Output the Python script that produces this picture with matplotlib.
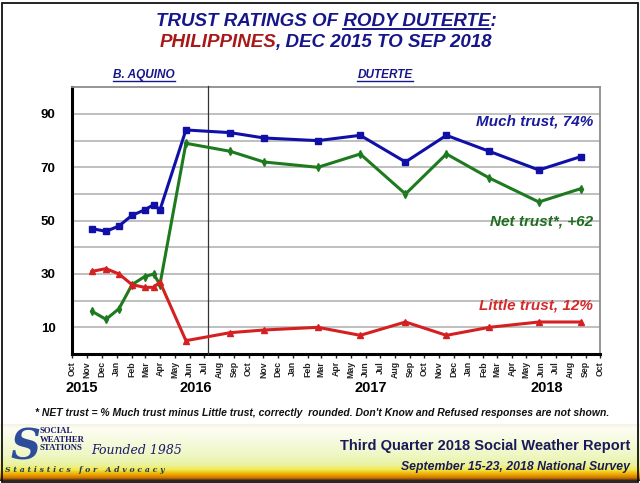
import matplotlib
matplotlib.use("Agg")
import numpy as np
import pandas as pd
import matplotlib.pyplot as plt
import matplotlib.dates as mdates
from matplotlib.patches import Rectangle
from matplotlib.lines import Line2D

plt.rcParams['font.family'] = ['Liberation Sans', 'DejaVu Sans']

# survey points as they sit on the chart's month axis
survey_dates = ['2015-11-11', '2015-12-10', '2016-01-06', '2016-02-02', '2016-02-28',
                '2016-03-18', '2016-03-31', '2016-05-24', '2016-08-24', '2016-11-02',
                '2017-02-22', '2017-05-21', '2017-08-23', '2017-11-16', '2018-02-13',
                '2018-05-27', '2018-08-22']
much_trust = [47, 46, 48, 52, 54, 56, 54, 84, 83, 81, 80, 82, 72, 82, 76, 69, 74]
net_trust = [16, 13, 17, 26, 29, 30, 26, 79, 76, 72, 70, 75, 60, 75, 66, 57, 62]
little_trust = [31, 32, 30, 26, 25, 25, 27, 5, 8, 9, 10, 7, 12, 7, 10, 12, 12]

term_change = '2016-07-08'
year_labels = ['2015', '2016', '2017', '2018']
year_label_dates = ['2015-10-20', '2016-06-14', '2017-06-12', '2018-06-13']

NAVY = '#16168a'
W, H = 640, 483

x = pd.to_datetime(survey_dates)

fig = plt.figure(figsize=(6.4, 4.83), dpi=100)
fig.patch.set_facecolor('white')

# footer banner gradient
bax = fig.add_axes([0, 1 - 481 / H, 1, 57 / H])
stops = [(0.0, '#f4f4e4'), (0.08, '#fdfdf4'), (0.55, '#eef7c4'), (0.72, '#eaf2a0'),
         (0.8, '#f3ea50'), (0.88, '#eeb000'), (0.95, '#d07000'), (1.0, '#202020')]
pos = np.array([s[0] for s in stops])
cols = np.array([matplotlib.colors.to_rgb(s[1]) for s in stops])
t = np.linspace(0, 1, 120)
grad = np.stack([np.interp(t, pos, cols[:, i]) for i in range(3)], axis=1)
bax.imshow(grad[:, None, :], aspect='auto', extent=(0, 1, 0, 1))
bax.set_axis_off()

# main chart
ax = fig.add_axes([72.3 / W, 1 - 354 / H, (600 - 72.3) / W, (354 - 87.3) / H])
ax.plot(x, much_trust, color='#1010a8', lw=2.2, marker='s', ms=4.5, zorder=4)
ax.plot(x, net_trust, color='#1e7a1e', lw=2.2, marker='d', ms=4, zorder=4)
ax.plot(x, little_trust, color='#d42020', lw=2.2, marker='^', ms=4.5, zorder=4)
ax.axvline(pd.Timestamp(term_change), color='#333333', lw=0.9, zorder=3, ymax=1.005, clip_on=False)

ax.set_ylim(0, 100)
ax.set_xlim(pd.Timestamp('2015-10-01'), pd.Timestamp('2018-10-01'))
ax.set_yticks(range(10, 100, 20))
ax.set_yticks(range(20, 100, 20), minor=True)
ax.yaxis.grid(True, which='both', color='#b4b4b4', lw=1.2)
ax.set_axisbelow(True)
ax.tick_params(axis='y', which='both', length=0, pad=12, labelsize=9.5)
for lab in ax.get_yticklabels():
    lab.set_fontweight('bold')

ax.xaxis.set_major_locator(mdates.MonthLocator())
ax.xaxis.set_major_formatter(mdates.DateFormatter('%b'))
ax.tick_params(axis='x', length=3, width=1, pad=2, labelsize=6.3, rotation=90, colors='#222222')
for lab in ax.get_xticklabels():
    lab.set_fontweight('bold')

for side in ['left', 'bottom']:
    ax.spines[side].set_linewidth(2.2)
    ax.spines[side].set_color('black')
for side in ['top', 'right']:
    ax.spines[side].set_linewidth(1.3)
    ax.spines[side].set_color('#8c8c8c')

for lab, d in zip(year_labels, year_label_dates):
    ax.text(pd.Timestamp(d), -0.127, lab, transform=ax.get_xaxis_transform(),
            ha='center', va='center', fontsize=10.5, fontweight='bold')

ax.text(0.987, 0.87, 'Much trust, 74%', transform=ax.transAxes, ha='right', va='center',
        fontsize=11, fontweight='bold', fontstyle='italic', color='#1a1a9c')
ax.text(0.987, 0.495, 'Net trust*, +62', transform=ax.transAxes, ha='right', va='center',
        fontsize=11, fontweight='bold', fontstyle='italic', color='#1e6e1e')
ax.text(0.987, 0.183, 'Little trust, 12%', transform=ax.transAxes, ha='right', va='center',
        fontsize=11, fontweight='bold', fontstyle='italic', color='#d42a2a')

renderer = fig.canvas.get_renderer()


def width_px(s, **kw):
    tt = fig.text(0, 0, s, **kw)
    w = tt.get_window_extent(renderer).width
    tt.remove()
    return w


def underline(x0, x1, y_px, color, lw=1.2):
    fig.add_artist(Line2D([x0 / W, x1 / W], [1 - y_px / H, 1 - y_px / H],
                          color=color, lw=lw, transform=fig.transFigure))


# title
tkw = dict(fontsize=13.5, fontweight='bold', fontstyle='italic')
line1 = 'TRUST RATINGS OF RODY DUTERTE:'
w1 = width_px(line1, **tkw)
left1 = 326 - w1 / 2
fig.text(left1 / W, 1 - 26 / H, line1, color=NAVY, va='baseline', **tkw)
end_name = left1 + width_px('TRUST RATINGS OF RODY DUTERTE', **tkw)
underline(end_name - width_px('RODY DUTERTE', **tkw), end_name, 28.5, NAVY, 1.4)

part_a, part_b = 'PHILIPPINES', ', DEC 2015 TO SEP 2018'
w2 = width_px(part_a + part_b, **tkw)
left2 = 326 - w2 / 2
red = fig.text(left2 / W, 1 - 51 / H, part_a, color='#a81818', va='bottom', **tkw)
fig.text(0, 0, part_b, color=NAVY, va='bottom', ha='left',
         transform=matplotlib.transforms.offset_copy(
             fig.transFigure, fig=fig,
             x=left2 + width_px(part_a, **tkw) - 1, y=H - 51, units='dots'), **tkw)

# president headings
hkw = dict(fontsize=8.5, fontweight='bold', fontstyle='italic', color=NAVY, va='baseline')
for s, cx in [('B. AQUINO', 144), ('DUTERTE', 385)]:
    w = width_px(s, fontsize=8.5, fontweight='bold', fontstyle='italic')
    fig.text((cx - w / 2) / W, 1 - 78 / H, s, **hkw)
    underline(cx - w / 2, cx + w / 2, 80.5, NAVY, 1.0)

# footnote
fig.text(322 / W, 1 - 413 / H,
         "* NET trust = % Much trust minus Little trust, correctly  rounded. Don't Know and Refused responses are not shown.",
         ha='center', va='center', fontsize=7.5, fontweight='bold', fontstyle='italic', color='#111111')

# footer texts
fig.text(630 / W, 1 - 446 / H, 'Third Quarter 2018 Social Weather Report', ha='right', va='center',
         fontsize=10.5, fontweight='bold', color='#1a1a5a')
fig.text(630 / W, 1 - 467 / H, 'September 15-23, 2018 National Survey', ha='right', va='center',
         fontsize=8.8, fontweight='bold', fontstyle='italic', color='#1a1a5a')

# logo
fig.text(10 / W, 1 - 447 / H, 'S', ha='left', va='center', fontsize=30, fontweight='bold',
         fontstyle='italic', color='#2c4c9c', family='DejaVu Serif')
for s, yy in [('SOCIAL', 431), ('WEATHER', 439.5), ('STATIONS', 448)]:
    fig.text(40 / W, 1 - yy / H, s, ha='left', va='center', fontsize=6.3, fontweight='bold',
             color='#1a1a6a', family='Liberation Serif')
fig.text(91 / W, 1 - 451 / H, 'Founded 1985', ha='left', va='center', fontsize=9,
         fontstyle='italic', color='#1a1a6a', family='DejaVu Serif')
fig.text(5 / W, 1 - 469.5 / H, 'S t a t i s t i c s   f o r   A d v o c a c y', ha='left', va='center',
         fontsize=5.6, fontweight='bold', fontstyle='italic', color='#1a3a5a', family='DejaVu Serif')

# outer border
fig.add_artist(Rectangle((1.5 / W, 1.5 / H), 1 - 4 / W, 1 - 4 / H, transform=fig.transFigure,
                         fill=False, ec='#111111', lw=1.3))

fig.savefig('out.png', dpi=100)
